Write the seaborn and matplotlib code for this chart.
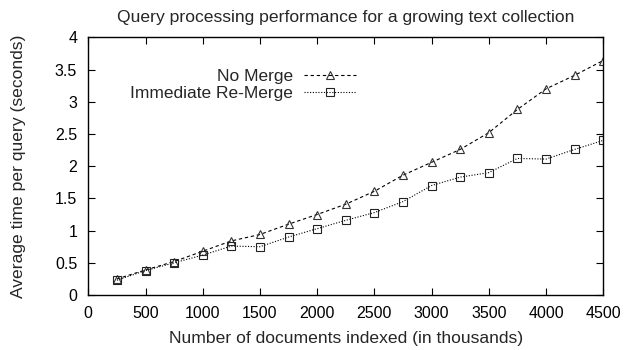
import matplotlib
matplotlib.use("Agg")
import matplotlib.pyplot as plt
import seaborn as sns
import pandas as pd

docs = [250, 500, 750, 1000, 1250, 1500, 1750, 2000, 2250, 2500, 2750,
        3000, 3250, 3500, 3750, 4000, 4250, 4500]
no_merge = [0.25, 0.39, 0.52, 0.68, 0.84, 0.94, 1.10, 1.25, 1.41, 1.61, 1.86,
            2.06, 2.26, 2.52, 2.88, 3.20, 3.41, 3.64]
immediate = [0.23, 0.38, 0.50, 0.62, 0.76, 0.75, 0.90, 1.03, 1.16, 1.28, 1.45,
             1.70, 1.83, 1.90, 2.12, 2.11, 2.26, 2.40]
series_names = ["No Merge", "Immediate Re-Merge"]
xticks = [0, 500, 1000, 1500, 2000, 2500, 3000, 3500, 4000, 4500]
yticks = [0, 0.5, 1, 1.5, 2, 2.5, 3, 3.5, 4]
ytick_labels = ["0", "0.5", "1", "1.5", "2", "2.5", "3", "3.5", "4"]

sns.set_style("ticks")
plt.rcParams["font.family"] = ["Liberation Sans", "DejaVu Sans"]

fig = plt.figure(figsize=(6.29, 3.5), dpi=100)
ax = fig.add_axes([0.1404, 0.157, 0.959 - 0.1404, 0.8934 - 0.157])

df1 = pd.DataFrame({"x": docs, "y": no_merge})
df2 = pd.DataFrame({"x": docs, "y": immediate})

sns.lineplot(data=df1, x="x", y="y", ax=ax, color="black", lw=0.8,
             linestyle=(0, (3, 2.5)), marker="^", markersize=6,
             markerfacecolor="none", markeredgecolor="#333333", markeredgewidth=0.8,
             label=series_names[0])
sns.lineplot(data=df2, x="x", y="y", ax=ax, color="black", lw=0.8,
             linestyle=(0, (1, 1.5)), marker="s", markersize=5.5,
             markerfacecolor="none", markeredgecolor="#222222", markeredgewidth=0.8,
             label=series_names[1])

ax.set_xlim(0, 4500)
ax.set_ylim(0, 4)
ax.set_xticks(xticks)
ax.set_xticklabels([str(v) for v in xticks])
ax.set_yticks(yticks)
ax.set_yticklabels(ytick_labels)
ax.tick_params(direction="in", length=5, width=0.8, top=True, right=True,
               labelsize=11.5, colors="black")
ax.tick_params(axis="x", pad=8)
ax.tick_params(axis="y", pad=8)
for s in ax.spines.values():
    s.set_visible(True)
    s.set_linewidth(1.0)
    s.set_color("black")

ax.set_xlabel("Number of documents indexed (in thousands)", fontsize=12.6, labelpad=7)
ax.set_ylabel("Average time per query (seconds)", fontsize=12.6, labelpad=21)
ax.set_title("Query processing performance for a growing text collection",
             fontsize=12.6, pad=11)

leg = ax.legend(loc="upper left", bbox_to_anchor=(0.068, 0.905), frameon=False,
                markerfirst=False, fontsize=12.5, handlelength=3.0,
                labelspacing=0.12, handletextpad=0.6, borderaxespad=0)
try:
    for col in leg._legend_box._children[1]._children:
        col.align = "right"
except Exception:
    pass

fig.savefig("out.png", dpi=100)
